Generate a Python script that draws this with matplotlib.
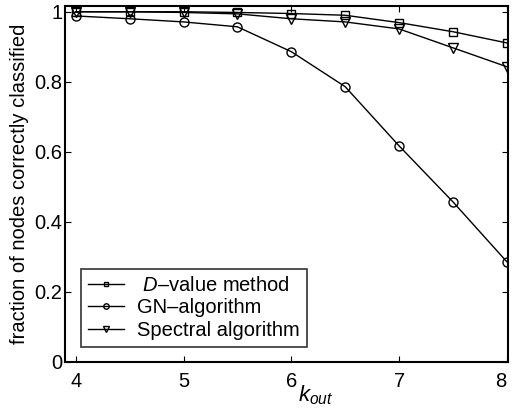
import matplotlib
matplotlib.use('Agg')
import matplotlib.pyplot as plt

# values
k_out = [4, 4.5, 5, 5.5, 6, 6.5, 7, 7.5, 8]
d_value = [1.0, 1.0, 1.0, 0.998, 0.995, 0.99, 0.969, 0.943, 0.911]
gn_alg = [0.988, 0.98, 0.971, 0.957, 0.886, 0.786, 0.617, 0.457, 0.286]
spectral = [1.0, 1.0, 0.998, 0.994, 0.98, 0.971, 0.951, 0.897, 0.843]
x_ticks = [4, 5, 6, 7, 8]
y_ticks = [0, 0.2, 0.4, 0.6, 0.8, 1]
y_tick_labels = ['0', '0.2', '0.4', '0.6', '0.8', '1']

plt.rcParams['font.family'] = ['Liberation Sans', 'DejaVu Sans']
plt.rcParams['mathtext.fontset'] = 'custom'
plt.rcParams['mathtext.rm'] = 'Liberation Sans'
plt.rcParams['mathtext.it'] = 'Liberation Sans:italic'

fig = plt.figure(figsize=(5.12, 4.15), dpi=100)
ax = fig.add_axes([0.127, 0.128, 0.865, 0.858])

ax.plot(k_out, d_value, marker='s', color='k', lw=1, ms=5.5, mfc='none', mew=1,
        label=' $\\it{D}$\u2013value method')
ax.plot(k_out, gn_alg, marker='o', color='k', lw=1, ms=6.5, mfc='none', mew=1,
        label='GN\u2013algorithm')
ax.plot(k_out, spectral, marker='v', color='k', lw=1, ms=7, mfc='none', mew=1,
        label='Spectral algorithm')

ax.set_xlim(3.9, 8.01)
ax.set_ylim(0, 1.017)
ax.set_xticks(x_ticks)
ax.set_yticks(y_ticks)
ax.set_yticklabels(y_tick_labels)
ax.tick_params(direction='in', top=True, right=True, labelsize=14.5, length=4, width=0.8)
ax.tick_params(axis='x', pad=7)
ax.tick_params(axis='y', pad=2)
ax.get_xticklabels()[-1].set_ha('right')
for s in ax.spines.values():
    s.set_linewidth(1.5)

ax.set_ylabel('fraction of nodes correctly classified', fontsize=14.5, labelpad=4)
ax.set_xlabel('$k_{out}$', fontsize=16)
ax.xaxis.set_label_coords(0.567, -0.06)

leg = ax.legend(loc='lower left', bbox_to_anchor=(0.036, 0.042), borderaxespad=0,
                fontsize=14.5, frameon=True, fancybox=False, edgecolor='k',
                borderpad=0.35, labelspacing=0.18, handlelength=1.8,
                handletextpad=0.65, markerscale=0.6)
leg.get_frame().set_linewidth(1.2)

fig.savefig('out.png', dpi=100)
